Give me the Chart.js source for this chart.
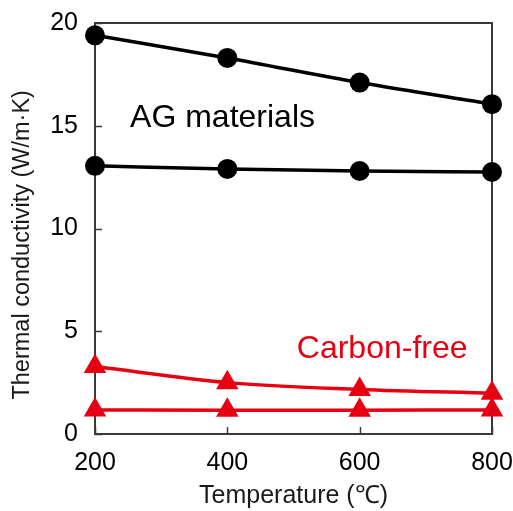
<!DOCTYPE html>
<html>
<head>
<meta charset="utf-8">
<script src="https://cdn.jsdelivr.net/npm/chart.js@4.4.1/dist/chart.umd.min.js"></script>
<style>
  html, body { margin: 0; padding: 0; background: #fff; }
  #wrap { width: 513px; height: 511px; }
</style>
</head>
<body>
<div id="wrap"><canvas id="chart" width="513" height="511"></canvas></div>
<script>
var temps = [200, 400, 600, 800];
var agHigh = [19.4, 18.3, 17.1, 16.05];
var agLow = [13.05, 12.9, 12.8, 12.75];
var cfHigh = [3.28, 2.5, 2.17, 1.98];
var cfLow = [1.17, 1.15, 1.16, 1.17];
var xTicks = [200, 400, 600, 800];
var yTicks = [0, 5, 10, 15, 20];

var black = '#000000';
var red = '#e60012';
var axisColor = '#3d3935';
var fontFamily = '"Liberation Sans", Arial, Helvetica, sans-serif';

function pts(xs, ys) {
  return xs.map(function (x, i) { return { x: x, y: ys[i] }; });
}

function series(ys, color, style, radius, width, tension) {
  return {
    data: pts(temps, ys),
    borderColor: color,
    backgroundColor: color,
    pointBackgroundColor: color,
    pointBorderColor: color,
    pointStyle: style,
    pointRadius: radius,
    pointBorderWidth: 0,
    borderWidth: width,
    tension: tension,
    cubicInterpolationMode: 'monotone',
    clip: false
  };
}

// box around plot area + inward tick marks + labels
var frame = {
  id: 'frame',
  beforeDatasetsDraw: function (chart) {
    var c = chart.ctx, a = chart.chartArea;
    var xs = chart.scales.x, ys = chart.scales.y;
    c.save();
    c.strokeStyle = axisColor;
    c.lineWidth = 2;
    c.strokeRect(a.left, a.top, a.right - a.left, a.bottom - a.top);
    c.lineWidth = 1.5;
    c.beginPath();
    yTicks.forEach(function (v) {
      var py = Math.round(ys.getPixelForValue(v)) + 0.5;
      c.moveTo(a.left, py); c.lineTo(a.left + 7, py);
    });
    xTicks.forEach(function (v) {
      var px = Math.round(xs.getPixelForValue(v)) + 0.5;
      c.moveTo(px, a.bottom); c.lineTo(px, a.bottom - 7);
    });
    c.stroke();
    c.restore();
  },
  afterDraw: function (chart) {
    var c = chart.ctx;
    var xs = chart.scales.x, ys = chart.scales.y;
    c.save();
    c.font = '32px ' + fontFamily;
    c.textAlign = 'left';
    c.textBaseline = 'alphabetic';
    c.fillStyle = black;
    c.fillText('AG materials', xs.getPixelForValue(253), ys.getPixelForValue(14.95));
    c.fillStyle = red;
    c.fillText('Carbon-free', xs.getPixelForValue(505), ys.getPixelForValue(3.7));
    c.restore();
  }
};

new Chart(document.getElementById('chart'), {
  type: 'line',
  data: {
    datasets: [
      series(agHigh, black, 'circle', 10, 3.5, 0),
      series(agLow, black, 'circle', 10, 3.5, 0),
      series(cfHigh, red, 'triangle', 13, 3.5, 0.4),
      series(cfLow, red, 'triangle', 13, 3.5, 0)
    ]
  },
  options: {
    responsive: false,
    animation: false,
    events: [],
    layout: { padding: { top: 23, right: 21, left: 0, bottom: 0 } },
    plugins: { legend: { display: false }, tooltip: { enabled: false } },
    scales: {
      x: {
        type: 'linear',
        min: 200,
        max: 800,
        afterBuildTicks: function (s) { s.ticks = xTicks.map(function (v) { return { value: v }; }); },
        afterFit: function (s) { s.height = 77; s.paddingLeft = 0; s.paddingRight = 0; },
        grid: { display: false, drawTicks: false },
        border: { display: false },
        ticks: { color: black, padding: 14, font: { family: fontFamily, size: 25 } },
        title: {
          display: true,
          text: 'Temperature (℃)',
          color: '#1a1a1a',
          padding: { top: 0, bottom: 0 },
          font: { family: fontFamily, size: 25 }
        }
      },
      y: {
        min: 0,
        max: 20,
        afterBuildTicks: function (s) { s.ticks = yTicks.map(function (v) { return { value: v }; }); },
        afterFit: function (s) { s.width = 95; s.paddingTop = 0; s.paddingBottom = 0; },
        grid: { display: false, drawTicks: false },
        border: { display: false },
        ticks: { color: black, padding: 17, font: { family: fontFamily, size: 25 } },
        title: {
          display: true,
          text: 'Thermal conductivity (W/m·K)     ',
          color: '#1a1a1a',
          padding: { top: 8, bottom: 0 },
          font: { family: fontFamily, size: 23.5 }
        }
      }
    }
  },
  plugins: [frame]
});
</script>
</body>
</html>
